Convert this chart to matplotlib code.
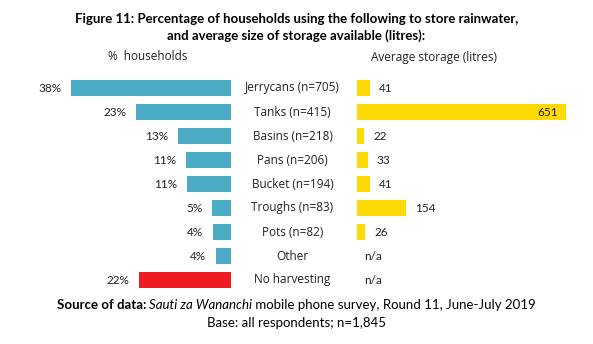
import matplotlib
matplotlib.use('Agg')
import matplotlib.pyplot as plt
import matplotlib.transforms as mtransforms

plt.rcParams['font.family'] = ['Lato', 'DejaVu Sans']

# Data
categories = ['Jerrycans (n=705)', 'Tanks (n=415)', 'Basins (n=218)', 'Pans (n=206)',
              'Bucket (n=194)', 'Troughs (n=83)', 'Pots (n=82)', 'Other', 'No harvesting']
pct_households = [38.2, 22.6, 12.6, 10.8, 10.6, 4.6, 4.3, 3.6, 21.9]
avg_storage = [41, 651, 22, 33, 41, 154, 26, None, None]

blue = '#4BACC6'
red = '#ED1C24'
yellow = '#FFDA00'
txt = '#222222'
wide = ['Open Sans', 'DejaVu Sans']

W, H = 593, 344
fig = plt.figure(figsize=(W / 100, H / 100), dpi=100)

rows = list(range(len(categories)))
top_px, bot_px = 76, 292
y0 = (H - bot_px) / H
hh = (bot_px - top_px) / H

# left panel: % households (bars grow to the left)
ax_l = fig.add_axes([42.5 / W, y0, 188.5 / W, hh])
colors_l = [blue] * (len(categories) - 1) + [red]
ax_l.barh(rows, pct_households, height=0.67, color=colors_l)
ax_l.set_xlim(45, 0)
ax_l.set_ylim(len(categories) - 0.5, -0.5)
for r, v in zip(rows, pct_households):
    ax_l.text(v + 2.3, r, f'{v:.0f}%', ha='right', va='center', fontsize=8.5, color=txt)
ax_l.axis('off')

# right panel: average storage
ax_r = fig.add_axes([357 / W, y0, 224.7 / W, hh])
vals = [v if v is not None else 0 for v in avg_storage]
ax_r.barh(rows, vals, height=0.67, color=yellow)
ax_r.set_xlim(0, 700)
ax_r.set_ylim(len(categories) - 0.5, -0.5)
for r, v in zip(rows, avg_storage):
    if v is None:
        ax_r.text(50, r, 'n/a', ha='center', va='center', fontsize=8.5, color=txt)
    elif v > 500:
        ax_r.text(v - 25, r, str(v), ha='right', va='center', fontsize=8.5, color=txt)
    else:
        ax_r.text(v + 28, r, str(v), ha='left', va='center', fontsize=8.5, color=txt)
ax_r.axis('off')

# category labels in the middle
trans = mtransforms.blended_transform_factory(fig.transFigure, ax_l.transData)
for r, c in zip(rows, categories):
    fig.text(292.5 / W, r, c, transform=trans, ha='center', va='center',
             fontsize=8.5, color=txt, family=wide)

# titles
fig.text(0.5, 1 - 19 / H, 'Figure 11: Percentage of households using the following to store rainwater,',
         ha='center', va='center', fontsize=9.5, fontweight='bold')
fig.text(0.5, 1 - 36 / H, 'and average size of storage available (litres):',
         ha='center', va='center', fontsize=9.5, fontweight='bold')
fig.text(148 / W, 1 - 57 / H, '%  households', ha='center', va='center', fontsize=8.5,
         color=txt, family=wide)
fig.text(433.5 / W, 1 - 57 / H, 'Average storage (litres)', ha='center', va='center', fontsize=8.5,
         color=txt, family=wide)

# footer with mixed styles
parts = [('Source of data: ', 'bold', 'normal'),
         ('Sauti za Wananchi', 'normal', 'italic'),
         (' mobile phone survey, Round 11, June-July 2019', 'normal', 'normal')]
fig.canvas.draw()
renderer = fig.canvas.get_renderer()
texts = []
total = 0
for s, wgt, sty in parts:
    t = fig.text(0, 1 - 305 / H, s, ha='left', va='center', fontsize=9.5,
                 fontweight=wgt, fontstyle=sty)
    w = t.get_window_extent(renderer).width
    texts.append((t, w))
    total += w
x = (W - total) / 2
for t, w in texts:
    t.set_x(x / W)
    x += w
fig.text(0.5, 1 - 323 / H, 'Base: all respondents; n=1,845', ha='center', va='center', fontsize=9.5)

fig.savefig('out.png', dpi=100)
